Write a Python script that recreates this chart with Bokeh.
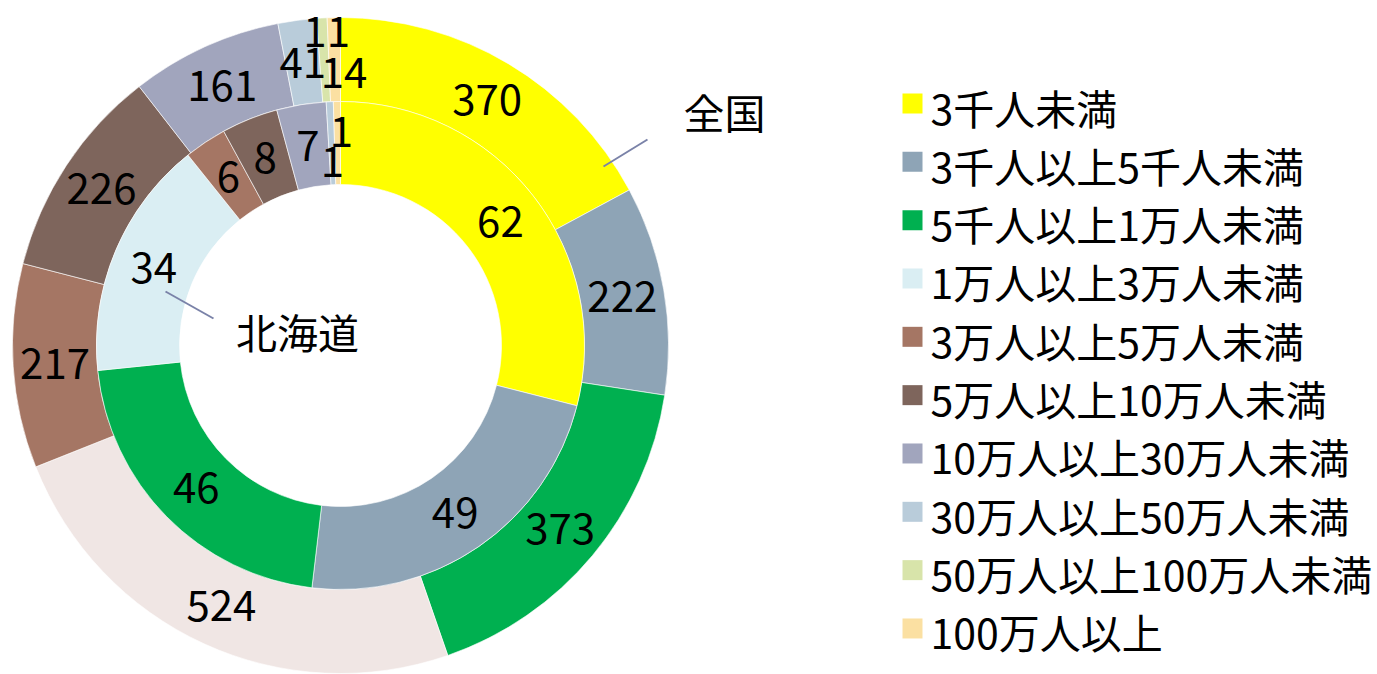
import math
from bokeh.plotting import figure
from bokeh.models import Range1d, ColumnDataSource
from bokeh.core.properties import value
from bokeh.embed import file_html
from bokeh.resources import INLINE

# ---------------- data ----------------
categories = ["3千人未満", "3千人以上5千人未満", "5千人以上1万人未満", "1万人以上3万人未満",
              "3万人以上5万人未満", "5万人以上10万人未満", "10万人以上30万人未満",
              "30万人以上50万人未満", "50万人以上100万人未満", "100万人以上"]
zenkoku = [370, 222, 373, 524, 217, 226, 161, 41, 11, 14]   # outer ring (全国)
hokkaido = [62, 49, 46, 34, 6, 8, 7, 1, 0, 1]               # inner ring (北海道)
series_names = ["全国", "北海道"]

# ---------------- style ----------------
colors = ["#FFFF00", "#8EA4B6", "#00B050", "#DAEEF3", "#A57664",
          "#7E655C", "#A1A5BD", "#B9CCDA", "#D8E4AA", "#FBE0A2"]
outer_colors = list(colors)
outer_colors[3] = "#F0E6E4"

FONT = "Noto Sans CJK JP"
W, H = 1377, 674
SH = 674  # data y = SH - screen y

CX, CY = 340, SH - 345
R_IN, R_MID, R_OUT = 161, 244, 328

p = figure(width=W, height=H, output_backend="svg", toolbar_location=None,
           x_range=Range1d(0, W), y_range=Range1d(SH - H, SH),
           min_border=0, outline_line_color=None)
p.axis.visible = False
p.grid.visible = False
p.background_fill_color = "white"


def ring(vals, cols, r0, r1):
    tot = float(sum(vals))
    starts, ends, mids, cs = [], [], [], []
    all_mids = []
    c = 0.0
    for v, col in zip(vals, cols):
        a0 = c / tot * 2 * math.pi
        c += v
        a1 = c / tot * 2 * math.pi
        all_mids.append((a0 + a1) / 2)
        if v == 0:
            continue
        starts.append(math.pi / 2 - a1)
        ends.append(math.pi / 2 - a0)
        cs.append(col)
    src = ColumnDataSource(dict(start=starts, end=ends, color=cs))
    p.annular_wedge(x=CX, y=CY, inner_radius=r0, outer_radius=r1,
                    start_angle="start", end_angle="end", fill_color="color",
                    line_color="white", line_width=0.6, source=src)
    return all_mids


mid_out = ring(zenkoku, outer_colors, R_MID, R_OUT)
mid_in = ring(hokkaido, colors, R_IN, R_MID)

# label placement tweaks for crowded small slices: (radius, x shift)
out_tweak = {8: (315, 4), 9: (273, 9)}
in_tweak = {7: (184, 0), 9: (214, 4)}


def labels(vals, mids, rdef, tweak):
    xs, ys, ts = [], [], []
    for i, (v, m) in enumerate(zip(vals, mids)):
        if v == 0:
            continue
        r, dx = tweak.get(i, (rdef, 0))
        xs.append(CX + r * math.sin(m) + dx)
        ys.append(CY + r * math.cos(m))
        ts.append(str(v))
    p.text(x=xs, y=ys, text=ts, text_align="center", text_baseline="middle",
           text_font=value(FONT), text_font_size="42px", text_color="black")


labels(zenkoku, mid_out, (R_MID + R_OUT) / 2, out_tweak)
labels(hokkaido, mid_in, (R_IN + R_MID) / 2, in_tweak)

# series name labels with leader lines
lead_col = "#7A82A8"
p.segment(x0=[603, 165], y0=[SH - 166, SH - 291], x1=[647, 213], y1=[SH - 139, SH - 318],
          line_color=lead_col, line_width=2)
p.text(x=[724, 297], y=[SH - 110, SH - 330], text=series_names, text_align="center",
       text_baseline="middle", text_font=value(FONT), text_font_size="41px",
       text_color="black")

# legend
LX, LY0, LDY = 912, SH - 103, 58.33
ly = [LY0 - i * LDY for i in range(len(categories))]
p.rect(x=[LX] * len(categories), y=ly, width=20, height=20, fill_color=colors,
       line_color=None)
p.text(x=[930] * len(categories), y=[v - 3 for v in ly], text=categories,
       text_align="left", text_baseline="middle", text_font=value(FONT),
       text_font_size="41px", text_color="black")

open("out.html", "w").write(file_html(p, INLINE))
